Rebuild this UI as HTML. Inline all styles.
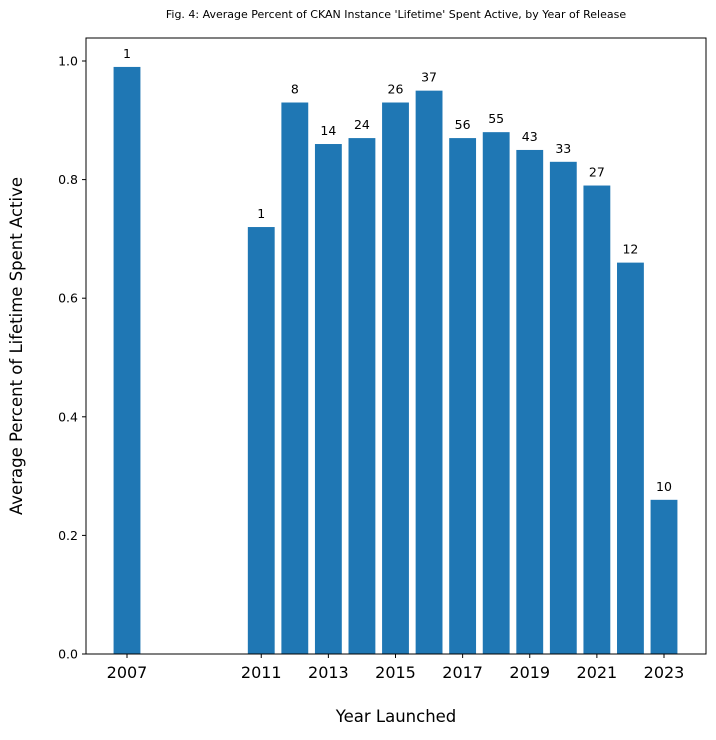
<!DOCTYPE html>
<html><head><meta charset="utf-8"><style>
body{margin:0;background:#fff;font-family:"DejaVu Sans","Liberation Sans",sans-serif;}
</style></head><body>
<svg id="chart" width="716" height="736" xmlns="http://www.w3.org/2000/svg" font-family="DejaVu Sans, Liberation Sans, sans-serif">
<text x="396" y="18" font-size="11" text-anchor="middle">Fig. 4: Average Percent of CKAN Instance 'Lifetime' Spent Active, by Year of Release</text>
<text x="396" y="722" font-size="16.5" text-anchor="middle">Year Launched</text>
<text transform="translate(22,346) rotate(-90)" font-size="16.5" text-anchor="middle">Average Percent of Lifetime Spent Active</text>
<g id="bars"></g><g id="axes"></g>
</svg>
<script>
const years=[2007,2011,2012,2013,2014,2015,2016,2017,2018,2019,2020,2021,2022,2023];
const values=[0.99,0.72,0.93,0.86,0.87,0.93,0.95,0.87,0.88,0.85,0.83,0.79,0.66,0.26];
const counts=[1,1,8,14,24,26,37,56,55,43,33,27,12,10];
const yTicks=[0,0.2,0.4,0.6,0.8,1.0];
const xTicks=[2007,2011,2013,2015,2017,2019,2021,2023];
const NS="http://www.w3.org/2000/svg";
const L=86,R=706,T=38,B=654;
const xs=y=>127+(y-2007)*(664-127)/16;
const ys=v=>654-v*593;
const bw=0.8*(664-127)/16;
const bars=document.getElementById('bars'),axes=document.getElementById('axes');
function mk(tag,a,p){const e=document.createElementNS(NS,tag);for(const k in a)e.setAttribute(k,a[k]);p.appendChild(e);return e;}
years.forEach((yr,i)=>{
 const r=mk('rect',{x:xs(yr)-bw/2,y:ys(values[i]),width:bw,height:B-ys(values[i]),fill:'#1f77b4'},bars);
 
 
 const t=mk('text',{x:xs(yr),y:ys(values[i])-9,'font-size':12.5,'text-anchor':'middle'},bars);
 t.textContent=counts[i];
 
 
});
const f=mk('rect',{x:L,y:T,width:R-L,height:B-T,fill:'none',stroke:'#000','stroke-width':1},axes);


yTicks.forEach(v=>{
 mk('line',{x1:L-4,x2:L,y1:ys(v),y2:ys(v),stroke:'#000'},axes);
 const t=mk('text',{x:L-8,y:ys(v)+4.5,'font-size':12.5,'text-anchor':'end'},axes);
 t.textContent=v.toFixed(1);
 
 
});
xTicks.forEach(v=>{
 mk('line',{x1:xs(v),x2:xs(v),y1:B,y2:B+4,stroke:'#000'},axes);
 const t=mk('text',{x:xs(v),y:B+24,'font-size':16,'text-anchor':'middle'},axes);
 t.textContent=v;
 
 
});
</script>
</body></html>
